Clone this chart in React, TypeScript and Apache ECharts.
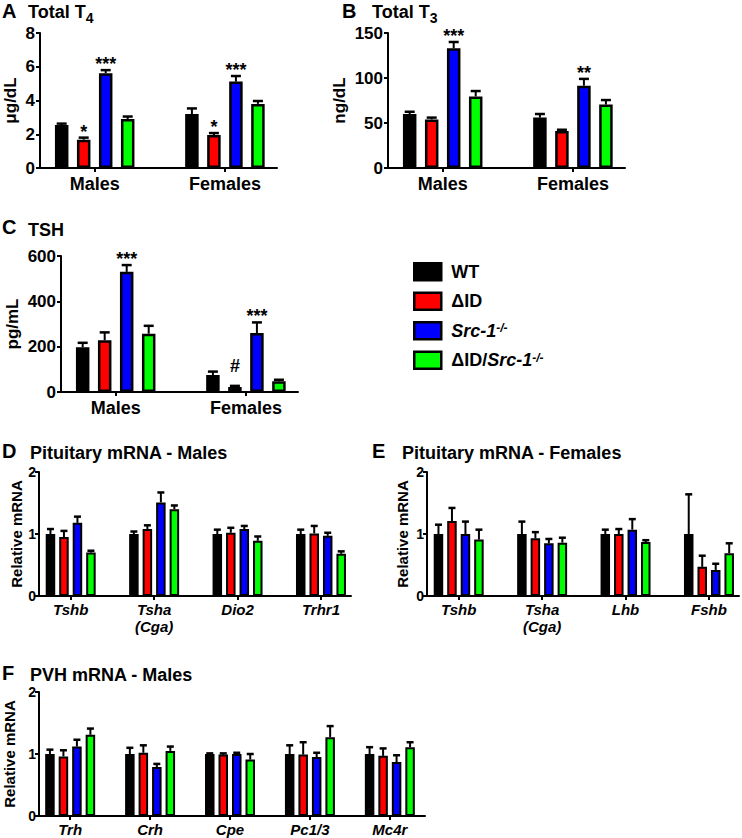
import React, { useEffect, useRef } from 'react';
import * as echarts from 'echarts';

const FONT = "'Liberation Sans', Arial, Helvetica, sans-serif";

// groups (legend)
const groupNames = ['WT', 'ΔID', 'Src-1-/-', 'ΔID/Src-1-/-'];
const groupColors = ['#000000', '#ff0000', '#0000ff', '#00ff00'];

// A: Total T4 (µg/dL) — rows = groups, columns = categories
const sexCategories = ['Males', 'Females'];
const t4Mean = [[2.55, 3.2], [1.68, 1.95], [5.62, 5.12], [2.9, 3.8]];
const t4Sem = [[0.08, 0.33], [0.12, 0.12], [0.18, 0.33], [0.15, 0.17]];
const t4Sig = [['', ''], ['*', '*'], ['***', '***'], ['', '']];

// B: Total T3 (ng/dL)
const t3Mean = [[60, 56], [54, 41], [133, 91.5], [79.5, 70.5]];
const t3Sem = [[2.5, 4], [2, 1.5], [7, 7.5], [6, 5]];
const t3Sig = [['', ''], ['', ''], ['***', '**'], ['', '']];

// C: TSH (pg/mL)
const tshMean = [[197, 75], [228, 22], [530, 260], [257, 47]];
const tshSem = [[20, 15], [35, 5], [30, 47], [35, 7]];
const tshSig = [['', ''], ['', '#'], ['***', '***'], ['', '']];

// D: Pituitary mRNA - Males
const pitMaleGenes = ['Tshb', 'Tsha\n(Cga)', 'Dio2', 'Trhr1'];
const pitMaleMean = [[1.0, 1.0, 1.0, 1.0], [0.95, 1.08, 1.02, 1.01], [1.18, 1.51, 1.08, 0.97], [0.7, 1.4, 0.89, 0.68]];
const pitMaleSem = [[0.08, 0.04, 0.07, 0.07], [0.1, 0.06, 0.08, 0.12], [0.1, 0.16, 0.05, 0.05], [0.03, 0.06, 0.07, 0.04]];

// E: Pituitary mRNA - Females
const pitFemaleGenes = ['Tshb', 'Tsha\n(Cga)', 'Lhb', 'Fshb'];
const pitFemaleMean = [[1.0, 1.0, 1.0, 1.0], [1.21, 0.93, 1.0, 0.47], [1.0, 0.85, 1.07, 0.42], [0.91, 0.86, 0.87, 0.69]];
const pitFemaleSem = [[0.15, 0.2, 0.07, 0.64], [0.21, 0.1, 0.08, 0.18], [0.2, 0.07, 0.17, 0.1], [0.16, 0.08, 0.03, 0.16]];

// F: PVH mRNA - Males
const pvhGenes = ['Trh', 'Crh', 'Cpe', 'Pc1/3', 'Mc4r'];
const pvhMean = [[1.0, 1.0, 1.0, 1.0, 1.0], [0.96, 1.02, 0.99, 0.99, 0.97], [1.12, 0.79, 1.0, 0.95, 0.87], [1.31, 1.05, 0.91, 1.27, 1.11]];
const pvhSem = [[0.07, 0.1, 0.01, 0.14, 0.11], [0.1, 0.12, 0.02, 0.2, 0.12], [0.11, 0.05, 0.02, 0.07, 0.11], [0.1, 0.07, 0.09, 0.18, 0.08]];

// y-axis ranges
const t4Axis = { max: 8, interval: 2 };
const t3Axis = { max: 150, interval: 50 };
const tshAxis = { max: 600, interval: 200 };
const mrnaAxis = { max: 2, interval: 1 };

type Panel = {
  categories: string[];
  mean: number[][];
  sem: number[][];
  sig?: string[][];
  yMax: number;
  yInterval: number;
  yName: string;
  nameGap: number;
  left: number;
  top: number;
  width: number;
  height: number;
  xMin: number;
  xMax: number;
  big: boolean;
};

const panels: Panel[] = [
  { categories: sexCategories, mean: t4Mean, sem: t4Sem, sig: t4Sig, yMax: t4Axis.max, yInterval: t4Axis.interval, yName: 'μg/dL', nameGap: 21, left: 40, top: 33, width: 237, height: 135, xMin: -0.42, xMax: 1.4, big: true },
  { categories: sexCategories, mean: t3Mean, sem: t3Sem, sig: t3Sig, yMax: t3Axis.max, yInterval: t3Axis.interval, yName: 'ng/dL', nameGap: 40, left: 388, top: 33, width: 237, height: 135, xMin: -0.42, xMax: 1.4, big: true },
  { categories: sexCategories, mean: tshMean, sem: tshSem, sig: tshSig, yMax: tshAxis.max, yInterval: tshAxis.interval, yName: 'pg/mL', nameGap: 40, left: 61, top: 256, width: 237, height: 136, xMin: -0.42, xMax: 1.4, big: true },
  { categories: pitMaleGenes, mean: pitMaleMean, sem: pitMaleSem, yMax: mrnaAxis.max, yInterval: mrnaAxis.interval, yName: 'Relative mRNA', nameGap: 15, left: 39, top: 472, width: 312, height: 124, xMin: -0.38, xMax: 3.36, big: false },
  { categories: pitFemaleGenes, mean: pitFemaleMean, sem: pitFemaleSem, yMax: mrnaAxis.max, yInterval: mrnaAxis.interval, yName: 'Relative mRNA', nameGap: 17, left: 427, top: 472, width: 312, height: 124, xMin: -0.38, xMax: 3.36, big: false },
  { categories: pvhGenes, mean: pvhMean, sem: pvhSem, yMax: mrnaAxis.max, yInterval: mrnaAxis.interval, yName: 'Relative mRNA', nameGap: 15, left: 39, top: 692, width: 386, height: 124, xMin: -0.39, xMax: 4.44, big: false },
];

const panelTitles = [
  { letter: 'A', lx: 2, ly: 11, text: 'Total T{sub|4}', tx: 28, ty: 12 },
  { letter: 'B', lx: 342, ly: 11, text: 'Total T{sub|3}', tx: 372, ty: 12 },
  { letter: 'C', lx: 2, ly: 227, text: 'TSH', tx: 28, ty: 230 },
  { letter: 'D', lx: 2, ly: 451, text: 'Pituitary mRNA - Males', tx: 30, ty: 453 },
  { letter: 'E', lx: 372, ly: 451, text: 'Pituitary mRNA - Females', tx: 402, ty: 453 },
  { letter: 'F', lx: 2, ly: 673, text: 'PVH mRNA - Males', tx: 30, ty: 675 },
];

function buildOption() {
  const grid: any[] = [];
  const xAxis: any[] = [];
  const yAxis: any[] = [];
  const series: any[] = [];

  panels.forEach((p, pi) => {
    const barWidth = p.big ? 13.5 : 9.5;
    const borderW = p.big ? 2.5 : 2;
    const gapPct = p.big ? 63 : 42;
    const pitch = barWidth * (1 + gapPct / 100);
    const capW = p.big ? 10 : 7;
    const tickVals = p.categories.map((_, i) => i);
    const nGroups = groupNames.length;

    grid.push({ left: p.left, top: p.top, width: p.width, height: p.height, outerBoundsMode: 'none', containLabel: false });

    xAxis.push({
      gridIndex: pi,
      type: 'value',
      min: p.xMin,
      max: p.xMax,
      axisLine: { show: true, onZero: false, lineStyle: { color: '#000', width: 2 } },
      axisTick: { show: true, customValues: tickVals, length: 4, lineStyle: { color: '#000', width: 2 } },
      axisLabel: {
        show: true,
        customValues: tickVals,
        formatter: (v: number) => p.categories[Math.round(v)] ?? '',
        color: '#000',
        fontFamily: FONT,
        fontWeight: 'bold',
        fontStyle: p.big ? 'normal' : 'italic',
        fontSize: p.big ? 18 : 15,
        lineHeight: p.big ? 20 : 17,
        margin: p.big ? 6 : 5,
      },
      splitLine: { show: false },
    });

    yAxis.push({
      gridIndex: pi,
      type: 'value',
      min: 0,
      max: p.yMax,
      interval: p.yInterval,
      name: p.yName,
      nameLocation: 'middle',
      nameGap: p.nameGap,
      nameTextStyle: { color: '#000', fontFamily: FONT, fontWeight: 'bold', fontSize: p.big ? 17 : 15 },
      axisLine: { show: true, onZero: false, lineStyle: { color: '#000', width: 2 } },
      axisTick: { show: true, length: 4, lineStyle: { color: '#000', width: 2 } },
      axisLabel: { color: '#000', fontFamily: FONT, fontWeight: 'bold', fontSize: p.big ? 17 : 14, margin: p.big ? 5 : 3 },
      splitLine: { show: false },
    });

    groupNames.forEach((g, gi) => {
      series.push({
        type: 'bar',
        name: g,
        xAxisIndex: pi,
        yAxisIndex: pi,
        barWidth,
        barGap: gapPct + '%',
        silent: true,
        z: 2,
        itemStyle: { color: groupColors[gi], borderColor: '#000', borderWidth: borderW },
        data: p.mean[gi].map((v, ci) => [ci, v]),
      });
    });

    const items: { x: number; g: number; mean: number; sem: number; sig: string }[] = [];
    p.mean.forEach((row, gi) =>
      row.forEach((v, ci) => items.push({ x: ci, g: gi, mean: v, sem: p.sem[gi][ci], sig: p.sig ? p.sig[gi][ci] : '' }))
    );

    series.push({
      type: 'custom',
      name: 'sem-' + pi,
      xAxisIndex: pi,
      yAxisIndex: pi,
      clip: false,
      silent: true,
      z: 5,
      encode: { x: 0, y: 1 },
      data: items.map((it) => [it.x, it.mean + it.sem]),
      renderItem: (params: any, api: any) => {
        const it = items[params.dataIndex];
        const base = api.coord([it.x, it.mean]);
        const top = api.coord([it.x, it.mean + it.sem]);
        const cx = base[0] + (it.g - (nGroups - 1) / 2) * pitch;
        const children: any[] = [
          { type: 'line', shape: { x1: cx, y1: base[1], x2: cx, y2: top[1] }, style: { stroke: '#000', lineWidth: 2 } },
          { type: 'line', shape: { x1: cx - capW / 2, y1: top[1], x2: cx + capW / 2, y2: top[1] }, style: { stroke: '#000', lineWidth: 2.5 } },
        ];
        if (it.sig) {
          children.push({
            type: 'text',
            x: cx,
            y: top[1] - (it.sig === '#' ? 20 : 6),
            style: { text: it.sig, fill: '#000', fontFamily: FONT, fontWeight: 'bold', fontSize: 18, align: 'center', verticalAlign: 'middle' },
          });
        }
        return { type: 'group', children };
      },
    });
  });

  const tokenBase = { fontFamily: FONT, fontWeight: 'bold', fill: '#000' };
  const graphic: any[] = [];
  panelTitles.forEach((t) => {
    graphic.push({
      type: 'text',
      x: t.lx,
      y: t.ly,
      style: { text: t.letter, ...tokenBase, fontSize: 20, verticalAlign: 'middle' },
    });
    graphic.push({
      type: 'text',
      x: t.tx,
      y: t.ty,
      style: {
        text: t.text,
        ...tokenBase,
        fontSize: 18,
        verticalAlign: 'middle',
        rich: {
          sub: { ...tokenBase, fontSize: 14, verticalAlign: 'bottom', lineHeight: 14 },
        },
        lineHeight: 26,
      },
    });
  });

  const legendRich = {
    n: { fontFamily: FONT, fontWeight: 'bold', fontSize: 18, color: '#000', lineHeight: 17 },
    i: { fontFamily: FONT, fontWeight: 'bold', fontStyle: 'italic', fontSize: 18, color: '#000', lineHeight: 17 },
    s: { fontFamily: FONT, fontWeight: 'bold', fontStyle: 'italic', fontSize: 12, color: '#000', lineHeight: 12, verticalAlign: 'top' },
  };

  return {
    animation: false,
    backgroundColor: '#ffffff',
    textStyle: { fontFamily: FONT },
    grid,
    xAxis,
    yAxis,
    series,
    graphic,
    legend: {
      data: groupNames,
      orient: 'vertical',
      left: 413,
      top: 262,
      padding: 0,
      itemWidth: 27,
      itemHeight: 17,
      itemGap: 10,
      icon: 'rect',
      selectedMode: false,
      itemStyle: { borderColor: '#000', borderWidth: 2.5 },
      textStyle: { padding: [0, 0, 0, 5], rich: legendRich },
      formatter: (name: string) => {
        if (name === 'WT') return '{n|WT}';
        if (name === 'ΔID') return '{n|ΔID}';
        if (name === 'Src-1-/-') return '{i|Src-1}{s|-/-}';
        return '{n|ΔID/}{i|Src-1}{s|-/-}';
      },
    },
  };
}

export default function App() {
  const ref = useRef<HTMLDivElement>(null);
  useEffect(() => {
    if (!ref.current) return;
    const chart = echarts.init(ref.current, null, { renderer: 'svg' });
    chart.setOption(buildOption() as any);
    return () => chart.dispose();
  }, []);
  return (
    <div
      ref={ref}
      style={{ position: 'absolute', left: 0, top: 0, width: 742, height: 838, background: '#fff' }}
    />
  );
}
